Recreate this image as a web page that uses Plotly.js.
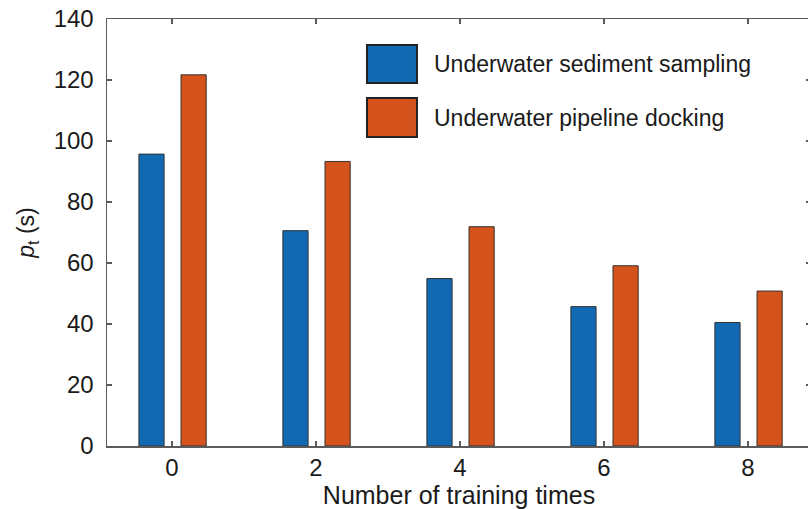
<!DOCTYPE html>
<html>
<head>
<meta charset="utf-8">
<script src="https://cdn.plot.ly/plotly-3.0.1.min.js"></script>
<style>
html, body { margin: 0; padding: 0; overflow: hidden; background: #fff; }
#chart { width: 814px; height: 509px; }
</style>
</head>
<body>
<div id="chart"></div>
<script>
// ---- data ----
const trainingTimes = [0, 2, 4, 6, 8];
const sedimentSampling = [95.7, 70.6, 54.9, 45.7, 40.5];
const pipelineDocking = [121.7, 93.3, 71.9, 59.1, 50.8];
const seriesNames = ["Underwater sediment sampling", "Underwater pipeline docking"];
const yTicks = [0, 20, 40, 60, 80, 100, 120, 140];
const xTicks = [0, 2, 4, 6, 8];

const blue = "#1169b1";
const orange = "#d4521b";
const font = "Liberation Sans, Arial, Helvetica, sans-serif";

const traces = [
  {
    type: "bar", x: trainingTimes, y: sedimentSampling, name: seriesNames[0],
    width: 0.35, offset: -0.46,
    marker: { color: blue, line: { color: "#333", width: 1 } },
    showlegend: false
  },
  {
    type: "bar", x: trainingTimes, y: pipelineDocking, name: seriesNames[1],
    width: 0.35, offset: 0.125,
    marker: { color: orange, line: { color: "#333", width: 1 } },
    showlegend: false
  }
];

const axisColor = "#5a5a5a";
const layout = {
  width: 814, height: 509,
  margin: { l: 107, r: 3, t: 19, b: 63 },
  paper_bgcolor: "#fff", plot_bgcolor: "#fff",
  font: { family: font, color: "#1a1a1a" },
  barmode: "overlay",
  xaxis: {
    range: [-0.903, 8.875],
    tickvals: xTicks, ticktext: xTicks.map(String),
    ticks: "inside", ticklen: 5, tickwidth: 1.5, tickcolor: axisColor,
    showline: true, linecolor: axisColor, linewidth: 1.5, mirror: "ticks",
    showgrid: false, zeroline: false,
    tickfont: { size: 24, family: font, color: "#1a1a1a" },
    ticklabelstandoff: 0,
    title: { text: "Number of training times", font: { size: 25, family: font, color: "#1a1a1a" }, standoff: 4 }
  },
  yaxis: {
    range: [0, 140],
    tickvals: yTicks, ticktext: yTicks.map(String),
    ticks: "inside", ticklen: 5, tickwidth: 1.5, tickcolor: axisColor,
    showline: true, linecolor: axisColor, linewidth: 1.5, mirror: "ticks",
    showgrid: false, zeroline: false,
    tickfont: { size: 24, family: font, color: "#1a1a1a" },
    ticklabelstandoff: 7,
    title: { text: "<i>p</i><sub>t</sub> (s)", font: { size: 23, family: font, color: "#1a1a1a" }, standoff: 12 }
  },
  shapes: [
    { type: "rect", xref: "paper", yref: "paper", x0: 0.3693, x1: 0.4403, y0: 0.850, y1: 0.939,
      fillcolor: blue, line: { color: "#222", width: 2 } },
    { type: "rect", xref: "paper", yref: "paper", x0: 0.3693, x1: 0.4403, y0: 0.7237, y1: 0.815,
      fillcolor: orange, line: { color: "#222", width: 2 } }
  ],
  annotations: [
    { xref: "paper", yref: "paper", x: 0.4616, y: 0.8946, xanchor: "left", yanchor: "middle",
      text: seriesNames[0], showarrow: false, font: { size: 23, family: font, color: "#1a1a1a" } },
    { xref: "paper", yref: "paper", x: 0.4616, y: 0.7693, xanchor: "left", yanchor: "middle",
      text: seriesNames[1], showarrow: false, font: { size: 23, family: font, color: "#1a1a1a" } }
  ]
};

Plotly.newPlot("chart", traces, layout, { displayModeBar: false, staticPlot: true });
</script>
</body>
</html>
